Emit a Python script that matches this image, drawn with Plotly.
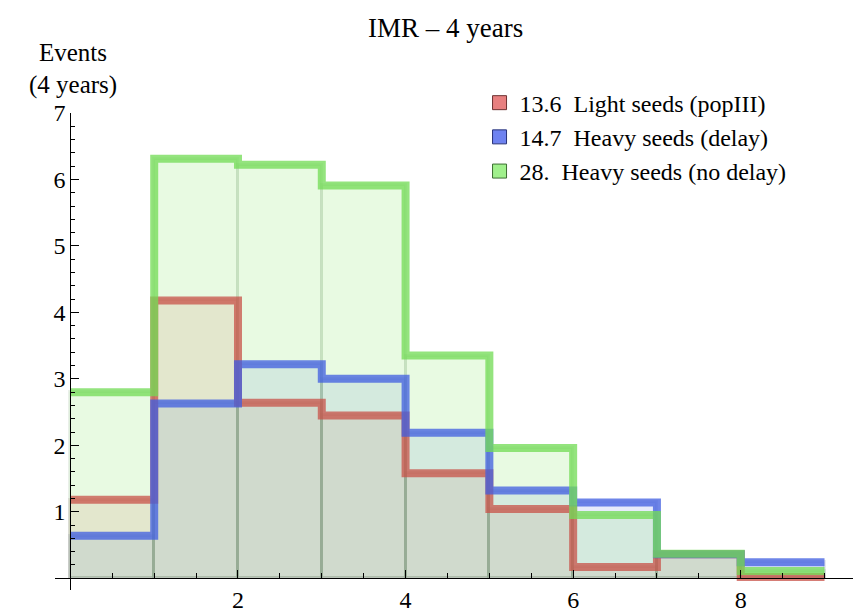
import plotly.graph_objects as go

# Histogram bins (lower edges) and event counts per bin over 4 years
bin_edges = [0, 1, 2, 3, 4, 5, 6, 7, 8, 9]
light_popIII = [1.18, 4.18, 2.64, 2.45, 1.58, 1.04, 0.17, 0.36, 0.02]
heavy_delay = [0.64, 2.63, 3.22, 3.00, 2.19, 1.32, 1.14, 0.36, 0.24]
heavy_nodelay = [2.80, 6.31, 6.22, 5.91, 3.35, 1.96, 0.95, 0.37, 0.11]

series_names = ["13.6  Light seeds (popIII)",
                "14.7  Heavy seeds (delay)",
                "28.  Heavy seeds (no delay)"]

x_ticks = [2, 4, 6, 8]
y_ticks = [1, 2, 3, 4, 5, 6, 7]

FONT = "Liberation Serif"

styles = [
    dict(fill="rgba(215,110,95,0.16)", edge="rgba(150,110,100,0.16)",
         line="rgba(200,80,70,0.74)", swatch="rgb(232,128,128)", border="rgb(110,50,50)"),
    dict(fill="rgba(90,120,230,0.15)", edge="rgba(110,120,150,0.16)",
         line="rgba(65,95,225,0.76)", swatch="rgb(110,130,240)", border="rgb(40,50,120)"),
    dict(fill="rgba(140,230,110,0.20)", edge="rgba(120,160,110,0.16)",
         line="rgba(115,220,85,0.76)", swatch="rgb(160,240,140)", border="rgb(60,110,50)"),
]
all_series = [light_popIII, heavy_delay, heavy_nodelay]

centers = [(a + b) / 2 for a, b in zip(bin_edges[:-1], bin_edges[1:])]

fig = go.Figure()

# translucent filled bars
for vals, st in zip(all_series, styles):
    fig.add_trace(go.Bar(
        x=centers, y=vals, width=1,
        marker=dict(color=st["fill"], line=dict(color=st["edge"], width=3)),
        showlegend=False, hoverinfo="skip",
    ))

# thick step outlines along the bar tops
for vals, st in zip(all_series, styles):
    fig.add_trace(go.Scatter(
        x=bin_edges, y=vals + [vals[-1]],
        mode="lines", line=dict(shape="hv", color=st["line"], width=8),
        showlegend=False, hoverinfo="skip",
    ))

# legend swatches
for name, st in zip(series_names, styles):
    fig.add_trace(go.Scatter(
        x=[None], y=[None], mode="markers", name=name,
        marker=dict(symbol="square", size=14, color=st["swatch"],
                    line=dict(color=st["border"], width=1)),
    ))

xmin, xmax = -0.184, 9.34
ymin, ymax = -0.177, 7.0

fig.update_layout(
    width=853, height=613,
    margin=dict(l=55, r=0, t=113, b=13),
    paper_bgcolor="white", plot_bgcolor="white",
    barmode="overlay", bargap=0,
    font=dict(family=FONT, size=24, color="black"),
    showlegend=True,
    legend=dict(x=0.532, y=1.068, xanchor="left", yanchor="top",
                bgcolor="rgba(0,0,0,0)", font=dict(family=FONT, size=24, color="black"),
                itemsizing="trace", tracegroupgap=0),
    xaxis=dict(
        range=[xmin, xmax], anchor="free",
        position=(0 - ymin) / (ymax - ymin),
        showgrid=False, zeroline=False,
        showline=True, linecolor="black", linewidth=1,
        tickvals=x_ticks, ticks="inside", ticklen=8, tickcolor="black",
        minor=dict(dtick=0.5, tick0=0, ticks="inside", ticklen=5, tickcolor="black"),
        tickfont=dict(family=FONT, size=24, color="black"),
    ),
    yaxis=dict(
        range=[ymin, ymax], anchor="free",
        position=(0 - xmin) / (xmax - xmin),
        showgrid=False, zeroline=False,
        showline=True, linecolor="black", linewidth=1,
        tickvals=y_ticks, ticks="inside", ticklen=8, tickcolor="black",
        minor=dict(dtick=0.2, tick0=0, ticks="inside", ticklen=4, tickcolor="black"),
        tickfont=dict(family=FONT, size=24, color="black"),
    ),
    annotations=[
        dict(text="IMR – 4 years", xref="paper", yref="paper",
             x=0.489, y=1.178, xanchor="center", yanchor="middle",
             showarrow=False, font=dict(family=FONT, size=27, color="black")),
        dict(text="Events", xref="paper", yref="paper",
             x=0.022, y=1.126, xanchor="center", yanchor="middle",
             showarrow=False, font=dict(family=FONT, size=25, color="black")),
        dict(text="(4 years)", xref="paper", yref="paper",
             x=0.022, y=1.058, xanchor="center", yanchor="middle",
             showarrow=False, font=dict(family=FONT, size=25, color="black")),
    ],
)

fig.write_html("out.html")
